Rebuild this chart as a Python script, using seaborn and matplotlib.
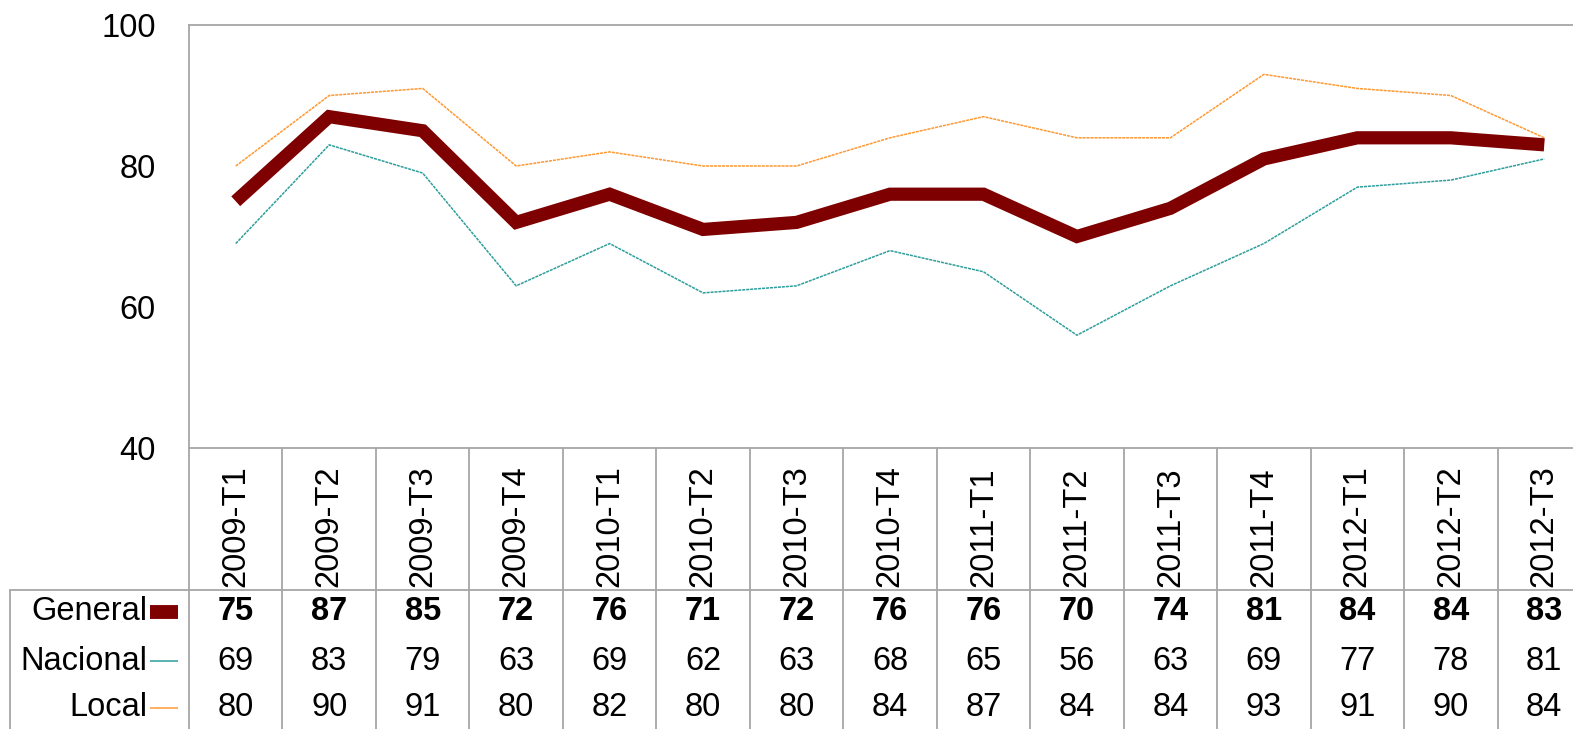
import numpy as np
import pandas as pd
import matplotlib
matplotlib.use("Agg")
import matplotlib.pyplot as plt
import seaborn as sns

periods = ["2009-T1", "2009-T2", "2009-T3", "2009-T4", "2010-T1", "2010-T2", "2010-T3",
           "2010-T4", "2011-T1", "2011-T2", "2011-T3", "2011-T4", "2012-T1", "2012-T2", "2012-T3"]
general = [75, 87, 85, 72, 76, 71, 72, 76, 76, 70, 74, 81, 84, 84, 83]
nacional = [69, 83, 79, 63, 69, 62, 63, 68, 65, 56, 63, 69, 77, 78, 81]
local = [80, 90, 91, 80, 82, 80, 80, 84, 87, 84, 84, 93, 91, 90, 84]

series_names = ["General", "Nacional", "Local"]
series_vals = [general, nacional, local]
colors = {"General": "#7f0000", "Nacional": "#2f9e9c", "Local": "#ff9933"}

sns.set_style("white")
plt.rcParams["font.family"] = ["Liberation Sans", "DejaVu Sans"]
plt.rcParams["text.color"] = "black"
plt.rcParams["ytick.color"] = "black"
plt.rcParams["ytick.labelcolor"] = "black"

FS = 23.5
W, H = 1573, 729
fig = plt.figure(figsize=(W / 100, H / 100), dpi=100)

# plot area (extends past the right edge, like the original crop)
left_px, right_px, top_px, bot_px = 189, 1591, 25, 448
ax = fig.add_axes([left_px / W, 1 - bot_px / H, (right_px - left_px) / W, (bot_px - top_px) / H])

x = np.arange(len(periods))
df = pd.DataFrame({"x": x, "General": general, "Nacional": nacional, "Local": local})
sns.lineplot(data=df, x="x", y="Local", ax=ax, color=colors["Local"], lw=1.1,
             linestyle=(0, (2, 0.6)))
sns.lineplot(data=df, x="x", y="Nacional", ax=ax, color=colors["Nacional"], lw=1.1,
             linestyle=(0, (2, 0.6)))
sns.lineplot(data=df, x="x", y="General", ax=ax, color=colors["General"], lw=9.5,
             solid_joinstyle="miter", solid_capstyle="butt")

ax.set_xlim(-0.5, len(periods) - 0.5)
ax.set_ylim(40, 100)
ax.set_yticks([40, 60, 80, 100])
ax.set_xticks([])
ax.set_xlabel("")
ax.set_ylabel("")
ax.tick_params(axis="y", length=0, pad=24, labelsize=FS, labelcolor="black")
for s in ["left", "top", "bottom"]:
    ax.spines[s].set_color("#a6a6a6")
    ax.spines[s].set_linewidth(1.3)
ax.spines["right"].set_visible(False)
ax.grid(False)

# data table below the chart
def fy(ypx):
    return 1 - ypx / H

gray = "#a6a6a6"
bt = matplotlib.transforms.blended_transform_factory(ax.transData, fig.transFigure)
for i in range(len(periods) + 1):
    fig.add_artist(plt.Line2D([i - 0.5, i - 0.5], [fy(bot_px), fy(H + 5)], transform=bt,
                              color=gray, lw=1.3))
fig.add_artist(plt.Line2D([10 / W, 1.0], [fy(590), fy(590)], transform=fig.transFigure,
                          color=gray, lw=1.3))
fig.add_artist(plt.Line2D([10 / W, 10 / W], [fy(590), fy(H + 5)], transform=fig.transFigure,
                          color=gray, lw=1.3))

for i, p in enumerate(periods):
    fig.text(i, fy(587), p, transform=bt, rotation=90, ha="center", va="bottom", fontsize=FS)

row_y = [612, 661, 708]
key_lw = {"General": 10, "Nacional": 1.1, "Local": 1.1}
for name, vals, ry in zip(series_names, series_vals, row_y):
    fig.text(147 / W, fy(ry), name, ha="right", va="center", fontsize=FS)
    fig.add_artist(plt.Line2D([150 / W, 178 / W], [fy(ry), fy(ry)], transform=fig.transFigure,
                              color=colors[name], lw=key_lw[name], solid_capstyle="butt"))
    for i, v in enumerate(vals):
        fig.text(i, fy(ry), str(v), transform=bt, ha="center", va="center", fontsize=FS,
                 fontweight="bold" if name == "General" else "normal")

fig.savefig("out.png", dpi=100)
